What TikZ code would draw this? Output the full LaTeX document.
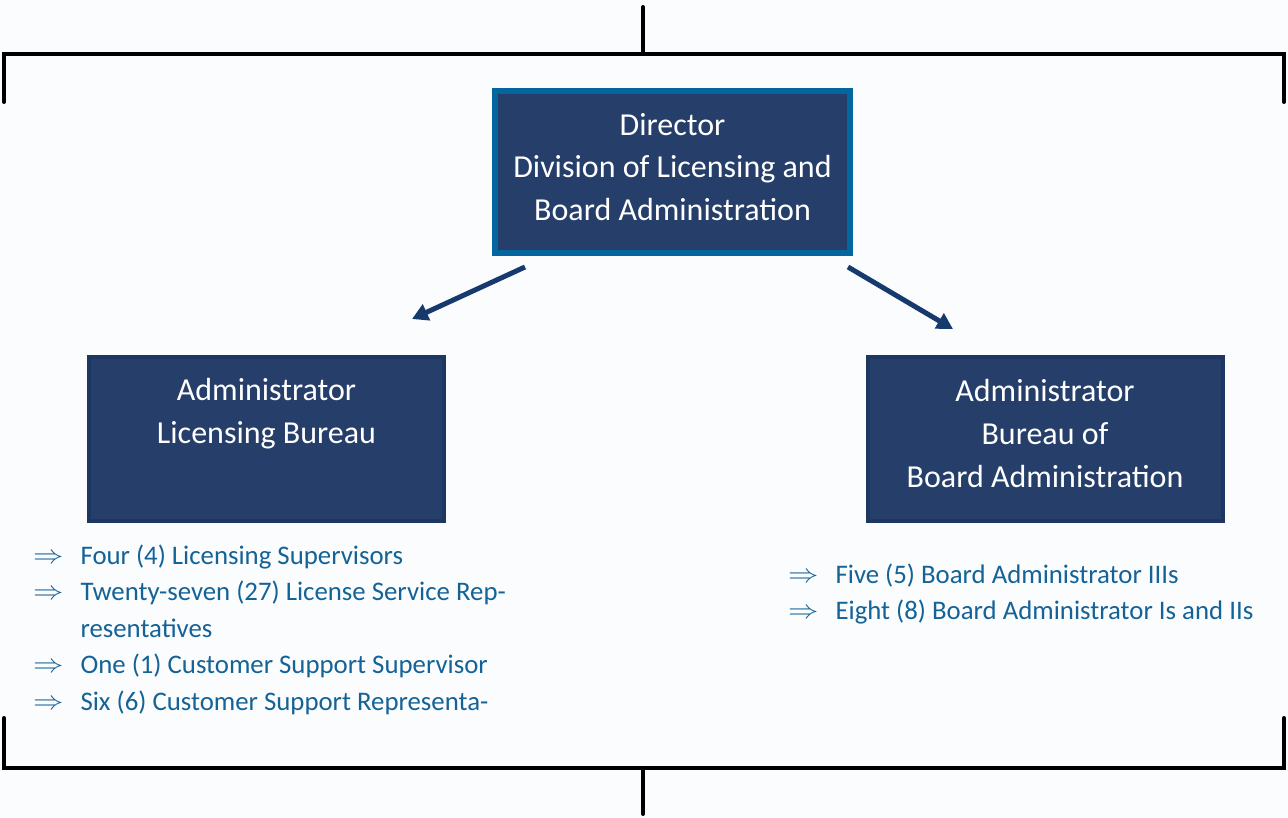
\documentclass[tikz,border=0pt]{standalone}
\usepackage{fontspec}
\setmainfont{Carlito}
\usepackage{graphicx}
\usetikzlibrary{arrows.meta}
\definecolor{bgc}{RGB}{251,252,254}
\definecolor{navy}{RGB}{38,62,106}
\definecolor{navyedge}{RGB}{30,54,98}
\definecolor{dirEdge}{RGB}{4,102,158}
\definecolor{arrc}{RGB}{22,57,110}
\definecolor{listc}{RGB}{20,98,150}
\newcommand{\bularr}{\raisebox{1pt}{\scalebox{1.22}[1.05]{$\Rightarrow$}}}
\newcommand{\upby}[1]{\raisebox{5pt}[\height][\depth]{#1}}
\begin{document}
\begin{tikzpicture}[x=1pt,y=-1pt,
  bracket/.style={line width=4pt,black,line cap=round,line join=miter},
  dirbox/.style={draw=dirEdge,line width=6pt,fill=navy,text=white,align=center,
    minimum width=355pt,minimum height=162pt,inner sep=0pt,
    font=\fontsize{32}{42.5}\selectfont},
  subbox/.style={draw=navyedge,line width=4pt,fill=navy,text=white,align=center,
    minimum width=355pt,minimum height=164pt,inner sep=0pt,
    font=\fontsize{32}{43}\selectfont},
  arr/.style={line width=5pt,arrc,-{Triangle[length=16pt,width=17pt]}},
  listnode/.style={anchor=base west,inner sep=0pt,text=listc,
    font=\fontsize{26.8}{36.5}\selectfont}
]
\useasboundingbox (0,0) rectangle (1288,818);
\fill[bgc] (0,0) rectangle (1288,818);
% brackets
\draw[bracket] (4,102) -- (4,54) -- (1284,54) -- (1284,102);
\draw[bracket] (643,7) -- (643,54);
\draw[bracket] (4,718) -- (4,768) -- (1284,768) -- (1284,718);
\draw[bracket] (643,768) -- (643,814);
% boxes
\node[dirbox] (dir) at (672.5,172) {\upby{\parbox{350pt}{\centering Director\\Division of Licensing and\\Board Administration}}};
\node[subbox] (lb) at (266.5,439) {Administrator\\Licensing Bureau\\\strut};
\node[subbox] (bba) at (1045,439) {\upby{\parbox{350pt}{\centering Administrator\\Bureau of\\Board Administration}}};
% arrows
\coordinate (a1s) at (525,267);
\coordinate (a1e) at (412,319);
\coordinate (a2s) at (848,267);
\coordinate (a2e) at (953,329);
\draw[arr] (a1s) -- (a1e);
\draw[arr] (a2s) -- (a2e);
% lists
\node[listnode] (l1) at (33,564) {\begin{tabular}[t]{@{}l@{\hspace{17pt}}l@{}}
\bularr & Four (4) Licensing Supervisors\\
\bularr & Twenty-seven (27) License Service Rep-\\
 & resentatives\\
\bularr & One (1) Customer Support Supervisor\\
\bularr & Six (6) Customer Support Representa-
\end{tabular}};
\node[listnode] (l2) at (788,583) {\begin{tabular}[t]{@{}l@{\hspace{17pt}}l@{}}
\bularr & Five (5) Board Administrator IIIs\\
\bularr & Eight (8) Board Administrator Is and IIs
\end{tabular}};
\end{tikzpicture}
\end{document}
